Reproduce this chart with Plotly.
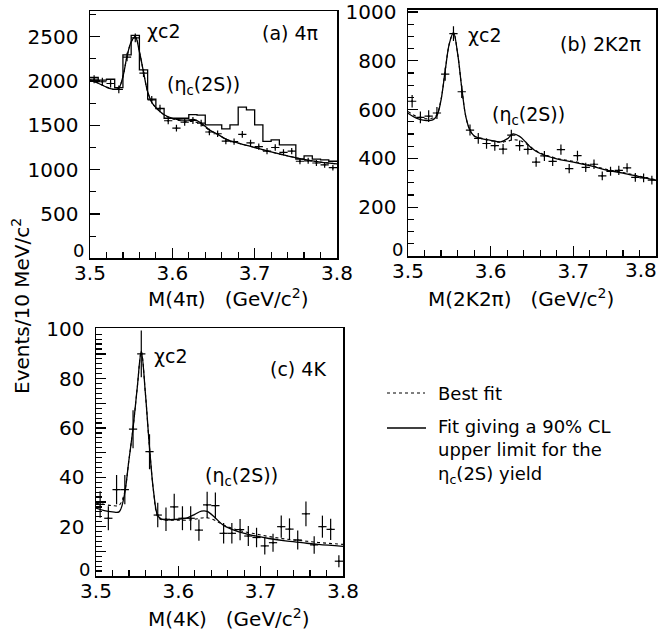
import plotly.graph_objects as go

FIG_W, FIG_H = 671, 636

# ---------------- data ----------------
MASS = [3.505, 3.515, 3.525, 3.535, 3.545, 3.555, 3.565, 3.575, 3.585, 3.595,
        3.605, 3.615, 3.625, 3.635, 3.645, 3.655, 3.665, 3.675, 3.685, 3.695,
        3.705, 3.715, 3.725, 3.735, 3.745, 3.755, 3.765, 3.775, 3.785, 3.795]
BIN_HALF_WIDTH = 0.005

A_POINTS = [2020, 1992, 1972, 1906, 2270, 2487, 2090, 1788, 1690, 1552,
            1468, 1536, 1556, 1525, 1425, 1405, 1322, 1316, 1398, 1302,
            1260, 1210, 1250, 1195, 1210, 1095, 1100, 1075, 1055, 1022]
A_HIST = [2040, 2010, 2020, 1925, 2295, 2515, 2125, 1795, 1690, 1580,
          1580, 1580, 1620, 1615, 1505, 1505, 1460, 1505, 1705, 1675,
          1505, 1320, 1335, 1280, 1280, 1120, 1155, 1120, 1110, 1095]
A_FIT_X = [3.500, 3.510, 3.520, 3.530, 3.535, 3.540, 3.545, 3.550, 3.555, 3.560,
           3.565, 3.570, 3.575, 3.580, 3.590, 3.600, 3.610, 3.620, 3.627, 3.635,
           3.645, 3.655, 3.665, 3.680, 3.700, 3.720, 3.740, 3.760, 3.780, 3.800]
A_FIT_LIMIT = [2010, 1975, 1930, 1905, 1920, 2050, 2280, 2440, 2500, 2330,
               2100, 1880, 1760, 1700, 1620, 1580, 1560, 1560, 1565, 1525,
               1450, 1400, 1345, 1300, 1250, 1200, 1155, 1115, 1085, 1065]
A_FIT_BEST = [2015, 1978, 1932, 1907, 1922, 2050, 2280, 2440, 2500, 2330,
              2100, 1880, 1760, 1700, 1618, 1575, 1552, 1545, 1540, 1510,
              1445, 1400, 1345, 1300, 1250, 1200, 1155, 1115, 1085, 1065]

B_POINTS = [634, 568, 573, 586, 745, 911, 673, 516, 482, 461,
            452, 438, 495, 452, 437, 385, 410, 388, 436, 358,
            411, 363, 376, 328, 347, 351, 361, 322, 320, 311]
B_FIT_X = [3.500, 3.510, 3.520, 3.530, 3.535, 3.540, 3.545, 3.550, 3.555, 3.560,
           3.565, 3.570, 3.575, 3.580, 3.590, 3.600, 3.612, 3.620, 3.627, 3.635,
           3.642, 3.650, 3.660, 3.680, 3.700, 3.720, 3.740, 3.760, 3.780, 3.800]
B_FIT_LIMIT = [585, 565, 556, 558, 575, 640, 760, 870, 915, 830,
               690, 570, 515, 492, 480, 474, 468, 480, 500, 490,
               468, 440, 420, 398, 385, 370, 352, 340, 325, 310]
B_FIT_BEST = [592, 572, 563, 565, 580, 642, 760, 870, 915, 830,
              690, 570, 515, 492, 480, 473, 466, 470, 476, 473,
              462, 443, 422, 400, 388, 372, 355, 342, 327, 312]

C_POINTS = [29, 23.4, 35, 35, 59.5, 90, 50.4, 24.7, 23, 28,
            23.4, 23.4, 18.6, 28.8, 28.5, 17.3, 17.3, 18.8, 16.2, 15.6,
            12.2, 13.5, 20, 19, 14.6, 25.2, 12.6, 20, 18.9, 6]
C_FIT_X = [3.500, 3.510, 3.520, 3.528, 3.534, 3.540, 3.545, 3.550, 3.555, 3.560,
           3.565, 3.570, 3.575, 3.580, 3.590, 3.600, 3.610, 3.620, 3.628, 3.635,
           3.645, 3.655, 3.670, 3.690, 3.710, 3.730, 3.750, 3.770, 3.800]
C_FIT_LIMIT = [27.5, 26.5, 26, 26, 32, 47, 60, 76, 91, 74,
               52, 34, 24.5, 23, 22.8, 23, 23.5, 25, 26.3, 26.2,
               23.5, 20.5, 18.3, 16.5, 15.2, 14.2, 13.5, 12.8, 12]
C_FIT_BEST = [29.5, 29, 28.5, 28.7, 33, 47, 60, 76, 91, 74,
              52, 34, 24, 22.8, 22.6, 22.6, 22.6, 23, 23.5, 23.6,
              22.5, 20.7, 18.8, 17.3, 16, 15, 14.3, 13.6, 12.8]

X_TICKS = [3.5, 3.6, 3.7, 3.8]
X_TICKTEXT = ["3.5", "3.6", "3.7", "3.8"]
X_TICKTEXT_B = ["3.5", "3.6", "3.7", ""]   # last label of (b) drawn shifted
# the "0" of each y axis is drawn raised at the corner (as in the original)
A_YTICKS = [0, 500, 1000, 1500, 2000, 2500]
A_YTICKTEXT = ["", "500", "1000", "1500", "2000", "2500"]
B_YTICKS = [0, 200, 400, 600, 800, 1000]
B_YTICKTEXT = ["", "200", "400", "600", "800", "1000"]
C_YTICKS = [0, 10, 20, 30, 40, 50, 60, 70, 80, 90, 100]
C_YTICKTEXT = ["", "", "20", "", "40", "", "60", "", "80", "", "100"]

FONT = "DejaVu Sans"


def px_x(p):
    return p / FIG_W


def px_y(p):
    return 1 - p / FIG_H


fig = go.Figure()

panels = [
    ("a", A_POINTS, A_FIT_X, A_FIT_LIMIT, A_FIT_BEST, "x", "y"),
    ("b", B_POINTS, B_FIT_X, B_FIT_LIMIT, B_FIT_BEST, "x2", "y2"),
    ("c", C_POINTS, C_FIT_X, C_FIT_LIMIT, C_FIT_BEST, "x3", "y3"),
]

# histogram of panel (a): step drawn on bin edges
hist_x = [m - BIN_HALF_WIDTH for m in MASS] + [MASS[-1] + BIN_HALF_WIDTH]
hist_y = A_HIST + [A_HIST[-1]]
fig.add_trace(go.Scatter(x=hist_x, y=hist_y, mode="lines", line_shape="hv",
                         line=dict(color="black", width=1.3),
                         xaxis="x", yaxis="y", showlegend=False))

for name, pts, fx, lim, best, xa, ya in panels:
    fig.add_trace(go.Scatter(x=fx, y=best, mode="lines", line_shape="spline",
                             line=dict(color="black", width=1.1, dash="dot"),
                             xaxis=xa, yaxis=ya, showlegend=False))
    fig.add_trace(go.Scatter(x=fx, y=lim, mode="lines", line_shape="spline",
                             line=dict(color="black", width=1.3),
                             xaxis=xa, yaxis=ya, showlegend=False))
    fig.add_trace(go.Scatter(
        x=MASS, y=pts, mode="markers",
        marker=dict(size=2, color="black"),
        error_x=dict(type="constant", value=BIN_HALF_WIDTH, width=0,
                     thickness=1.2, color="black"),
        error_y=dict(type="sqrt", width=0, thickness=1.2, color="black"),
        xaxis=xa, yaxis=ya, showlegend=False))

TICK_SIZE = 20
tickfont = dict(family=FONT, size=TICK_SIZE, color="black")


def xaxis_cfg(d0, d1, anchor, ticktext):
    return dict(domain=[px_x(d0), px_x(d1)], range=[3.5, 3.8], anchor=anchor,
                automargin=False,
                tickmode="array", tickvals=X_TICKS, ticktext=ticktext,
                ticks="inside", ticklen=10, tickwidth=1.2, tickcolor="black",
                minor=dict(dtick=0.02, tick0=3.5, ticks="inside", ticklen=6,
                           tickwidth=1.2, tickcolor="black"),
                showline=True, linecolor="black", linewidth=1.5, mirror=True,
                showgrid=False, zeroline=False, tickfont=tickfont,
                ticklabelstandoff=-4, ticklabeloverflow="allow")


def yaxis_cfg(top, bottom, rng, anchor, tickvals, ticktext, minor):
    return dict(domain=[px_y(bottom), px_y(top)], range=rng, anchor=anchor,
                automargin=False,
                tickmode="array", tickvals=tickvals, ticktext=ticktext,
                ticks="inside", ticklen=10, tickwidth=1.2, tickcolor="black",
                minor=dict(dtick=minor, tick0=0, ticks="inside", ticklen=6,
                           tickwidth=1.2, tickcolor="black"),
                showline=True, linecolor="black", linewidth=1.5, mirror=True,
                showgrid=False, zeroline=False, tickfont=tickfont,
                ticklabelstandoff=6, ticklabeloverflow="allow")


fig.update_layout(
    width=FIG_W, height=FIG_H,
    margin=dict(l=0, r=0, t=0, b=0, autoexpand=False),
    paper_bgcolor="white", plot_bgcolor="white",
    font=dict(family=FONT, color="black"),
    xaxis=xaxis_cfg(90, 337, "y", X_TICKTEXT),
    yaxis=yaxis_cfg(11, 258.3, [0, 2790], "x", A_YTICKS, A_YTICKTEXT, 250),
    xaxis2=xaxis_cfg(408, 656, "y2", X_TICKTEXT_B),
    yaxis2=yaxis_cfg(9.5, 256, [0, 1010], "x2", B_YTICKS, B_YTICKTEXT, 50),
    xaxis3=xaxis_cfg(96, 343, "y3", X_TICKTEXT),
    yaxis3=yaxis_cfg(328.3, 576, [0, 100.4], "x3", C_YTICKS, C_YTICKTEXT, 2),
)

ann_font = dict(family=FONT, size=19, color="black")
annotations = [
    dict(x=3.567, y=2565, xref="x", yref="y", text="χc2", xanchor="left"),
    dict(x=3.779, y=2540, xref="x", yref="y", text="(a) 4π", xanchor="right"),
    dict(x=3.638, y=1945, xref="x", yref="y", text="(η<sub>c</sub>(2S))",
         xanchor="center"),
    dict(x=3.570, y=905, xref="x2", yref="y2", text="χc2", xanchor="left"),
    dict(x=3.784, y=870, xref="x2", yref="y2", text="(b) 2K2π", xanchor="right"),
    dict(x=3.646, y=577, xref="x2", yref="y2", text="(η<sub>c</sub>(2S))",
         xanchor="center"),
    dict(x=3.568, y=89, xref="x3", yref="y3", text="χc2", xanchor="left"),
    dict(x=3.782, y=84, xref="x3", yref="y3", text="(c) 4K", xanchor="right"),
    dict(x=3.677, y=40.5, xref="x3", yref="y3", text="(η<sub>c</sub>(2S))",
         xanchor="center"),
]
for a in annotations:
    a.update(showarrow=False, font=ann_font, yanchor="middle")

# corner "0" labels (raised) and the shifted last x label of panel (b)
corner_font = dict(family=FONT, size=18, color="black")
for cx, cy, txt, anchor, fnt in [(86, 251, "0", "right", corner_font),
                                 (405, 249, "0", "right", corner_font),
                                 (92, 569, "0", "right", corner_font),
                                 (641, 270, "3.8", "center", tickfont)]:
    annotations.append(dict(x=px_x(cx), y=px_y(cy), xref="paper", yref="paper",
                            text=txt, showarrow=False, font=fnt,
                            xanchor=anchor, yanchor="middle"))

title_font = dict(family=FONT, size=20, color="black")
for tx, ty, txt, ang in [
        (228, 298, "M(4π)   (GeV/c<sup>2</sup>)", 0),
        (521, 298, "M(2K2π)   (GeV/c<sup>2</sup>)", 0),
        (229, 618, "M(4K)   (GeV/c<sup>2</sup>)", 0),
        (21, 306, "Events/10 MeV/c<sup>2</sup>", -90)]:
    annotations.append(dict(x=px_x(tx), y=px_y(ty), xref="paper", yref="paper",
                            text=txt, textangle=ang, showarrow=False,
                            font=title_font, xanchor="center",
                            yanchor="middle"))

leg_font = dict(family=FONT, size=18, color="black")
annotations += [
    dict(x=px_x(436), y=px_y(393), xref="paper", yref="paper", xanchor="left",
         yanchor="middle", text="Best fit", showarrow=False, font=leg_font),
    dict(x=px_x(436), y=px_y(451), xref="paper", yref="paper", xanchor="left",
         yanchor="middle", align="left",
         text="Fit giving a 90% CL<br>upper limit for the<br>η<sub>c</sub>(2S) yield",
         showarrow=False, font=leg_font),
]
fig.update_layout(annotations=annotations)

fig.add_shape(type="line", xref="paper", yref="paper",
              x0=px_x(387), x1=px_x(425), y0=px_y(393), y1=px_y(393),
              line=dict(color="black", width=1.2, dash="dot"))
fig.add_shape(type="line", xref="paper", yref="paper",
              x0=px_x(387), x1=px_x(426), y0=px_y(428), y1=px_y(428),
              line=dict(color="black", width=1.3))

# remove the page's default 8 px body margin so the figure fills the window
fig.write_html("out.html",
               config={"displayModeBar": False, "staticPlot": True},
               post_script="document.body.style.margin='0px';"
                           "document.body.style.overflow='hidden';")
